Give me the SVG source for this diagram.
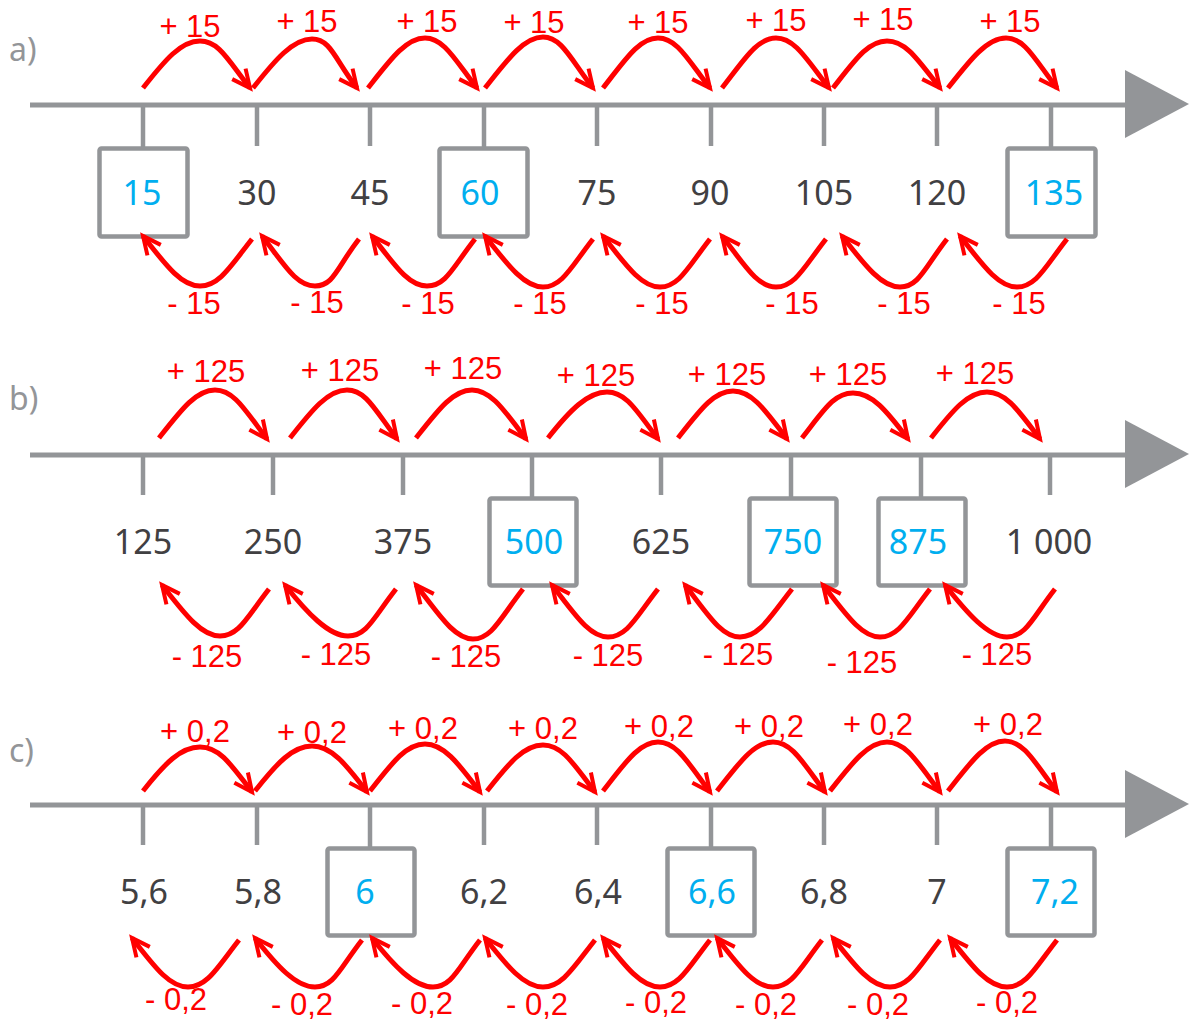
<svg xmlns="http://www.w3.org/2000/svg" width="1189" height="1023" viewBox="0 0 1189 1023">
<style>
.axis{stroke:#939598;stroke-width:5;fill:none}
.head{fill:#939598}
.tick{stroke:#939598;stroke-width:4.5}
.box{fill:#fff;stroke:#939598;stroke-width:4.5}
.num{font-family:"Noto Sans","DejaVu Sans",sans-serif;font-size:34px;fill:#414042;text-anchor:middle}
.ans{fill:#00aeef}
.part{font-family:"Noto Sans","DejaVu Sans",sans-serif;font-size:32px;fill:#939598}
.jump{fill:none;stroke:#ff0000;stroke-width:5;marker-end:url(#ah)}
.lbl{font-family:"Liberation Sans",Arial,sans-serif;font-size:31px;fill:#ff0000;text-anchor:middle}
</style>
<defs>
<marker id="ah" markerUnits="userSpaceOnUse" markerWidth="30" markerHeight="30" viewBox="-20 -15 30 30" refX="0" refY="0" orient="auto" overflow="visible">
<path d="M-18,-8.5 L0,0 L-18,8.5" fill="none" stroke="#ff0000" stroke-width="4"/>
</marker>
</defs>
<rect width="1189" height="1023" fill="#fff"/>

<g id="part-labels">
<text class="part" x="9" y="61">a)</text>
<text class="part" x="9" y="410">b)</text>
<text class="part" x="9" y="762">c)</text>
</g>

<g id="axis-a"><line class="axis" x1="30" y1="105" x2="1130" y2="105"/><polygon class="head" points="1125,70 1189,104 1125,138"/></g>
<g id="axis-b"><line class="axis" x1="30" y1="455" x2="1130" y2="455"/><polygon class="head" points="1125,420 1189,454 1125,488"/></g>
<g id="axis-c"><line class="axis" x1="30" y1="805" x2="1130" y2="805"/><polygon class="head" points="1125,770 1189,804 1125,838"/></g>

<!-- part a nodes -->
<g id="a-15"><line class="tick" x1="143" y1="105" x2="143" y2="148"/><rect class="box" x="99.5" y="148.5" width="88" height="88" rx="2"/><text class="num ans" x="142" y="205">15</text></g>
<g id="a-30"><line class="tick" x1="257" y1="105" x2="257" y2="146"/><text class="num" x="257" y="205">30</text></g>
<g id="a-45"><line class="tick" x1="370" y1="105" x2="370" y2="146"/><text class="num" x="370" y="205">45</text></g>
<g id="a-60"><line class="tick" x1="484" y1="105" x2="484" y2="148"/><rect class="box" x="439.5" y="148.5" width="88" height="88" rx="2"/><text class="num ans" x="480" y="205">60</text></g>
<g id="a-75"><line class="tick" x1="597" y1="105" x2="597" y2="146"/><text class="num" x="597" y="205">75</text></g>
<g id="a-90"><line class="tick" x1="711" y1="105" x2="711" y2="146"/><text class="num" x="710" y="205">90</text></g>
<g id="a-105"><line class="tick" x1="824" y1="105" x2="824" y2="146"/><text class="num" x="824" y="205">105</text></g>
<g id="a-120"><line class="tick" x1="937" y1="105" x2="937" y2="146"/><text class="num" x="937" y="205">120</text></g>
<g id="a-135"><line class="tick" x1="1051" y1="105" x2="1051" y2="148"/><rect class="box" x="1007.5" y="148.5" width="88" height="88" rx="2"/><text class="num ans" x="1054" y="205">135</text></g>

<!-- part b nodes -->
<g id="b-125"><line class="tick" x1="143" y1="455" x2="143" y2="495"/><text class="num" x="143" y="554">125</text></g>
<g id="b-250"><line class="tick" x1="273" y1="455" x2="273" y2="495"/><text class="num" x="273" y="554">250</text></g>
<g id="b-375"><line class="tick" x1="403" y1="455" x2="403" y2="495"/><text class="num" x="403" y="554">375</text></g>
<g id="b-500"><line class="tick" x1="532" y1="455" x2="532" y2="498"/><rect class="box" x="489.5" y="498.5" width="87" height="87" rx="2"/><text class="num ans" x="534" y="554">500</text></g>
<g id="b-625"><line class="tick" x1="661" y1="455" x2="661" y2="495"/><text class="num" x="661" y="554">625</text></g>
<g id="b-750"><line class="tick" x1="791" y1="455" x2="791" y2="498"/><rect class="box" x="749.5" y="498.5" width="87" height="87" rx="2"/><text class="num ans" x="793" y="554">750</text></g>
<g id="b-875"><line class="tick" x1="921" y1="455" x2="921" y2="498"/><rect class="box" x="878.5" y="498.5" width="87" height="87" rx="2"/><text class="num ans" x="918" y="554">875</text></g>
<g id="b-1000"><line class="tick" x1="1050" y1="455" x2="1050" y2="495"/><text class="num" x="1049" y="554">1 000</text></g>

<!-- part c nodes -->
<g id="c-5.6"><line class="tick" x1="143" y1="805" x2="143" y2="845"/><text class="num" x="144" y="904">5,6</text></g>
<g id="c-5.8"><line class="tick" x1="257" y1="805" x2="257" y2="845"/><text class="num" x="258" y="904">5,8</text></g>
<g id="c-6"><line class="tick" x1="370" y1="805" x2="370" y2="848"/><rect class="box" x="327.5" y="848.5" width="87" height="87" rx="2"/><text class="num ans" x="365" y="904">6</text></g>
<g id="c-6.2"><line class="tick" x1="484" y1="805" x2="484" y2="845"/><text class="num" x="484" y="904">6,2</text></g>
<g id="c-6.4"><line class="tick" x1="597" y1="805" x2="597" y2="845"/><text class="num" x="598" y="904">6,4</text></g>
<g id="c-6.6"><line class="tick" x1="711" y1="805" x2="711" y2="848"/><rect class="box" x="667.5" y="848.5" width="87" height="87" rx="2"/><text class="num ans" x="712" y="904">6,6</text></g>
<g id="c-6.8"><line class="tick" x1="824" y1="805" x2="824" y2="845"/><text class="num" x="824" y="904">6,8</text></g>
<g id="c-7"><line class="tick" x1="937" y1="805" x2="937" y2="845"/><text class="num" x="937" y="904">7</text></g>
<g id="c-7.2"><line class="tick" x1="1051" y1="805" x2="1051" y2="848"/><rect class="box" x="1007.5" y="848.5" width="87" height="87" rx="2"/><text class="num ans" x="1055" y="904">7,2</text></g>

<g id="connectors">
<!-- a forward -->
<path class="jump" d="M143,88 C165,60 181,41 200,41 C219,41 228,60 250,88"/>
<path class="jump" d="M253,88 C275,60 293,39 312,39 C331,39 335,60 357,88"/>
<path class="jump" d="M368,88 C390,60 406,38 425,38 C444,38 455,60 477,88"/>
<path class="jump" d="M485,88 C507,60 524,37 543,37 C562,37 571,60 593,88"/>
<path class="jump" d="M603,88 C625,60 639,38 658,38 C677,38 688,60 710,88"/>
<path class="jump" d="M722,88 C744,60 757,38 776,38 C795,38 807,60 829,88"/>
<path class="jump" d="M833,88 C855,60 868,41 887,41 C906,41 918,60 940,88"/>
<path class="jump" d="M948,88 C970,60 987,38 1006,38 C1025,38 1035,60 1057,88"/>
<!-- a backward -->
<path class="jump" d="M252,239 C230,267 219,286 200,286 C181,286 165,264 143,236"/>
<path class="jump" d="M359,239 C337,267 334,286 315,286 C296,286 284,264 262,236"/>
<path class="jump" d="M475,239 C453,267 446,286 427,286 C408,286 394,264 372,236"/>
<path class="jump" d="M593,239 C571,267 562,287 543,287 C524,287 507,264 485,236"/>
<path class="jump" d="M710,239 C688,267 679,287 660,287 C641,287 625,264 603,236"/>
<path class="jump" d="M826,239 C804,267 795,287 776,287 C757,287 744,264 722,236"/>
<path class="jump" d="M947,239 C925,267 919,287 900,287 C881,287 864,264 842,236"/>
<path class="jump" d="M1067,239 C1045,267 1036,287 1017,287 C998,287 982,264 960,236"/>
<!-- b forward -->
<path class="jump" d="M159,438 C181,410 196,390 215,390 C234,390 245,410 267,439"/>
<path class="jump" d="M290,438 C312,410 328,390 347,390 C366,390 375,410 397,439"/>
<path class="jump" d="M416,438 C438,410 453,390 472,390 C491,390 504,410 526,439"/>
<path class="jump" d="M548,438 C570,410 588,392 607,392 C626,392 636,410 658,439"/>
<path class="jump" d="M678,438 C700,410 714,391 733,391 C752,391 765,410 787,439"/>
<path class="jump" d="M802,438 C824,410 834,393 853,393 C872,393 886,410 908,439"/>
<path class="jump" d="M931,438 C953,410 968,392 987,392 C1006,392 1018,410 1040,439"/>
<!-- b backward -->
<path class="jump" d="M269,589 C247,617 239,636 220,636 C201,636 184,613 162,585"/>
<path class="jump" d="M396,589 C374,617 367,636 348,636 C329,636 307,613 285,585"/>
<path class="jump" d="M523,589 C501,617 492,639 473,639 C454,639 438,613 416,585"/>
<path class="jump" d="M658,589 C636,617 627,637 608,637 C589,637 574,613 552,585"/>
<path class="jump" d="M792,589 C770,617 759,637 740,637 C721,637 707,613 685,585"/>
<path class="jump" d="M930,589 C908,617 899,637 880,637 C861,637 845,613 823,585"/>
<path class="jump" d="M1055,589 C1033,617 1026,637 1007,637 C988,637 967,613 945,585"/>
<!-- c forward -->
<path class="jump" d="M143,791 C165,763 181,747 200,747 C219,747 230,763 252,792"/>
<path class="jump" d="M255,791 C277,763 293,746 312,746 C331,746 345,763 367,792"/>
<path class="jump" d="M370,791 C392,763 406,744 425,744 C444,744 458,763 480,792"/>
<path class="jump" d="M487,791 C509,763 524,745 543,745 C562,745 573,763 595,792"/>
<path class="jump" d="M603,791 C625,763 639,742 658,742 C677,742 688,763 710,792"/>
<path class="jump" d="M717,791 C739,763 754,742 773,742 C792,742 803,763 825,792"/>
<path class="jump" d="M830,791 C852,763 868,742 887,742 C906,742 918,763 940,792"/>
<path class="jump" d="M948,791 C970,763 986,741 1005,741 C1024,741 1035,763 1057,792"/>
<!-- c backward -->
<path class="jump" d="M239,940 C217,968 207,987 188,987 C169,987 154,966 132,938"/>
<path class="jump" d="M362,940 C340,968 334,987 315,987 C296,987 277,966 255,938"/>
<path class="jump" d="M480,940 C458,968 452,987 433,987 C414,987 394,966 372,938"/>
<path class="jump" d="M595,940 C573,968 562,987 543,987 C524,987 507,966 485,938"/>
<path class="jump" d="M710,940 C688,968 679,987 660,987 C641,987 625,966 603,938"/>
<path class="jump" d="M822,940 C800,968 792,987 773,987 C754,987 739,966 717,938"/>
<path class="jump" d="M940,940 C918,968 909,987 890,987 C871,987 855,966 833,938"/>
<path class="jump" d="M1057,940 C1035,968 1026,987 1007,987 C988,987 972,966 950,938"/>
</g>

<g id="connector-labels">
<text class="lbl" x="190" y="37">+ 15</text>
<text class="lbl" x="307" y="32">+ 15</text>
<text class="lbl" x="427" y="32">+ 15</text>
<text class="lbl" x="534" y="33">+ 15</text>
<text class="lbl" x="658" y="33">+ 15</text>
<text class="lbl" x="776" y="31">+ 15</text>
<text class="lbl" x="883" y="30">+ 15</text>
<text class="lbl" x="1010" y="32">+ 15</text>
<text class="lbl" x="194" y="314">- 15</text>
<text class="lbl" x="317" y="313">- 15</text>
<text class="lbl" x="428" y="314">- 15</text>
<text class="lbl" x="540" y="314">- 15</text>
<text class="lbl" x="662" y="314">- 15</text>
<text class="lbl" x="792" y="314">- 15</text>
<text class="lbl" x="904" y="314">- 15</text>
<text class="lbl" x="1019" y="314">- 15</text>

<text class="lbl" x="206" y="382">+ 125</text>
<text class="lbl" x="340" y="381">+ 125</text>
<text class="lbl" x="463" y="379">+ 125</text>
<text class="lbl" x="596" y="386">+ 125</text>
<text class="lbl" x="727" y="385">+ 125</text>
<text class="lbl" x="848" y="385">+ 125</text>
<text class="lbl" x="975" y="384">+ 125</text>
<text class="lbl" x="207" y="667">- 125</text>
<text class="lbl" x="336" y="665">- 125</text>
<text class="lbl" x="466" y="667">- 125</text>
<text class="lbl" x="608" y="666">- 125</text>
<text class="lbl" x="738" y="665">- 125</text>
<text class="lbl" x="862" y="673">- 125</text>
<text class="lbl" x="997" y="665">- 125</text>

<text class="lbl" x="195" y="742">+ 0,2</text>
<text class="lbl" x="312" y="743">+ 0,2</text>
<text class="lbl" x="423" y="739">+ 0,2</text>
<text class="lbl" x="543" y="739">+ 0,2</text>
<text class="lbl" x="659" y="737">+ 0,2</text>
<text class="lbl" x="769" y="737">+ 0,2</text>
<text class="lbl" x="878" y="735">+ 0,2</text>
<text class="lbl" x="1008" y="735">+ 0,2</text>
<text class="lbl" x="176" y="1010">- 0,2</text>
<text class="lbl" x="302" y="1015">- 0,2</text>
<text class="lbl" x="422" y="1014">- 0,2</text>
<text class="lbl" x="537" y="1015">- 0,2</text>
<text class="lbl" x="656" y="1013">- 0,2</text>
<text class="lbl" x="766" y="1015">- 0,2</text>
<text class="lbl" x="878" y="1015">- 0,2</text>
<text class="lbl" x="1007" y="1013">- 0,2</text>
</g>
</svg>
